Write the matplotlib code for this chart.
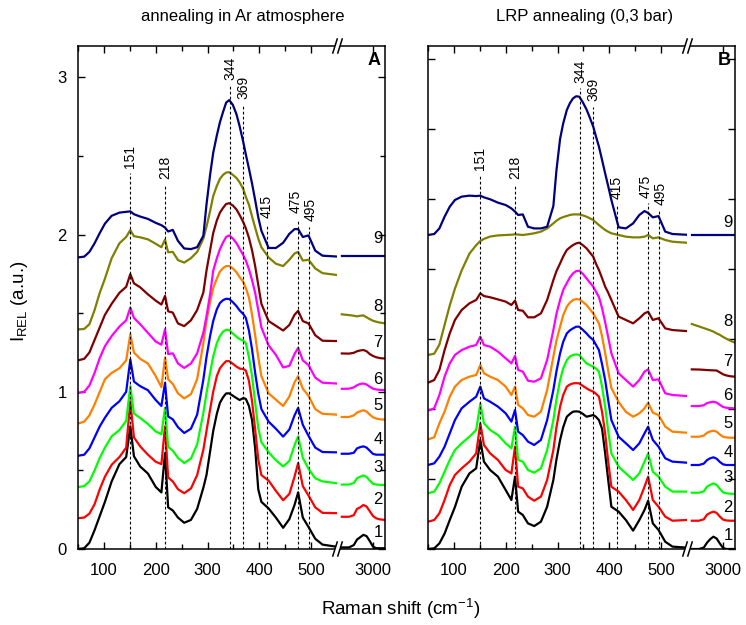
import matplotlib
matplotlib.use('Agg')
import matplotlib.pyplot as plt
from matplotlib.ticker import MultipleLocator, FormatStrFormatter, NullFormatter
from matplotlib.lines import Line2D
from matplotlib.patches import Polygon

plt.rcParams.update({'font.family': 'Liberation Sans', 'axes.linewidth': 1.1})

# Raman shift grids (cm-1): low-frequency part and C-H stretching part
SHIFT = [50, 62, 72, 82, 92, 102, 115, 130, 143, 151, 158, 170, 185, 200, 211,
         218, 224, 233, 243, 255, 268, 280,
         292, 298, 305, 311, 318, 324, 330, 336, 342, 349, 356, 362, 369, 374,
         380, 386, 392, 398, 404,
         418, 432, 446, 458, 468, 475, 484, 495, 508, 522, 548]
SHIFT_HI = [2610, 2700, 2760, 2800, 2840, 2880, 2920, 2960, 3000, 3040, 3090, 3150]

# Ar atmosphere, spectra 1..9 (stacked, relative intensity)
AR_LOW = [
    [0.0, 0.005, 0.04, 0.12, 0.21, 0.30, 0.43, 0.54, 0.585, 0.78, 0.59, 0.525, 0.48, 0.395, 0.36, 0.61, 0.265, 0.245, 0.20, 0.167, 0.185, 0.255,
     0.39, 0.47, 0.62, 0.75, 0.86, 0.93, 0.965, 0.99, 0.99, 0.975, 0.96, 0.948, 0.96, 0.955, 0.91, 0.82, 0.64, 0.38, 0.30,
     0.258, 0.20, 0.135, 0.19, 0.28, 0.36, 0.20, 0.14, 0.065, 0.028, 0.015],
    [0.196, 0.20, 0.225, 0.285, 0.38, 0.46, 0.536, 0.585, 0.645, 0.94, 0.71, 0.653, 0.60, 0.555, 0.54, 0.78, 0.455, 0.43, 0.38, 0.355, 0.385, 0.47,
     0.632, 0.75, 0.887, 1.00, 1.10, 1.15, 1.175, 1.195, 1.195, 1.178, 1.16, 1.148, 1.145, 1.135, 1.07, 0.94, 0.76, 0.57, 0.47,
     0.435, 0.37, 0.31, 0.35, 0.46, 0.547, 0.40, 0.34, 0.265, 0.23, 0.228],
    [0.394, 0.40, 0.43, 0.50, 0.58, 0.645, 0.717, 0.757, 0.815, 1.036, 0.862, 0.834, 0.795, 0.748, 0.73, 0.898, 0.65, 0.625, 0.58, 0.547, 0.575, 0.665,
     0.866, 0.99, 1.12, 1.225, 1.31, 1.355, 1.383, 1.395, 1.393, 1.37, 1.35, 1.336, 1.325, 1.31, 1.22, 1.10, 0.93, 0.77, 0.68,
     0.615, 0.565, 0.525, 0.56, 0.66, 0.717, 0.58, 0.51, 0.45, 0.43, 0.419],
    [0.593, 0.60, 0.64, 0.71, 0.78, 0.835, 0.898, 0.94, 1.0, 1.206, 1.065, 1.036, 1.01, 0.948, 0.91, 1.057, 0.843, 0.825, 0.775, 0.738, 0.765, 0.855,
     1.078, 1.22, 1.355, 1.45, 1.525, 1.565, 1.583, 1.592, 1.59, 1.57, 1.545, 1.518, 1.495, 1.47, 1.39, 1.27, 1.121, 0.99, 0.89,
     0.81, 0.765, 0.715, 0.76, 0.85, 0.898, 0.79, 0.72, 0.645, 0.617, 0.615],
    [0.798, 0.81, 0.85, 0.92, 1.00, 1.08, 1.12, 1.15, 1.20, 1.366, 1.25, 1.21, 1.18, 1.10, 1.03, 1.217, 1.08, 1.05, 0.99, 0.958, 0.985, 1.08,
     1.31, 1.45, 1.57, 1.66, 1.72, 1.765, 1.787, 1.80, 1.80, 1.785, 1.76, 1.73, 1.70, 1.66, 1.60, 1.49, 1.36, 1.22, 1.10,
     0.99, 0.95, 0.91, 0.97, 1.06, 1.10, 1.02, 0.975, 0.89, 0.86, 0.855],
    [0.993, 1.0, 1.04, 1.12, 1.215, 1.29, 1.355, 1.415, 1.455, 1.536, 1.47, 1.43, 1.375, 1.32, 1.30, 1.398, 1.24, 1.245, 1.18, 1.152, 1.18, 1.245,
     1.376, 1.48, 1.62, 1.77, 1.85, 1.908, 1.95, 1.985, 1.995, 1.975, 1.945, 1.91, 1.87, 1.835, 1.78, 1.71, 1.63, 1.52, 1.41,
     1.295, 1.235, 1.155, 1.165, 1.24, 1.28, 1.20, 1.17, 1.09, 1.058, 1.053],
    [1.20, 1.21, 1.25, 1.33, 1.41, 1.49, 1.56, 1.63, 1.668, 1.749, 1.69, 1.665, 1.62, 1.58, 1.555, 1.61, 1.512, 1.504, 1.435, 1.418, 1.455, 1.52,
     1.632, 1.77, 1.90, 2.01, 2.09, 2.14, 2.17, 2.195, 2.20, 2.185, 2.16, 2.125, 2.08, 2.04, 1.98, 1.90, 1.80, 1.68, 1.56,
     1.45, 1.42, 1.39, 1.425, 1.49, 1.515, 1.45, 1.435, 1.36, 1.325, 1.323],
    [1.397, 1.40, 1.43, 1.52, 1.63, 1.72, 1.85, 1.945, 1.985, 2.029, 1.99, 1.983, 1.97, 1.942, 1.92, 1.968, 1.888, 1.89, 1.838, 1.822, 1.85, 1.89,
     1.975, 2.05, 2.15, 2.245, 2.31, 2.355, 2.38, 2.395, 2.397, 2.38, 2.36, 2.333, 2.29, 2.24, 2.19, 2.115, 2.045, 1.975, 1.92,
     1.855, 1.815, 1.80, 1.84, 1.88, 1.89, 1.835, 1.84, 1.785, 1.755, 1.744],
    [1.855, 1.86, 1.89, 1.945, 2.01, 2.07, 2.12, 2.14, 2.145, 2.148, 2.13, 2.115, 2.10, 2.075, 2.06, 2.045, 2.02, 2.03, 1.96, 1.912, 1.908, 1.92,
     1.993, 2.19, 2.38, 2.52, 2.631, 2.715, 2.78, 2.84, 2.856, 2.825, 2.765, 2.69, 2.59, 2.51, 2.42, 2.325, 2.22, 2.11, 2.025,
     1.915, 1.915, 1.948, 2.005, 2.035, 2.035, 1.985, 1.995, 1.898, 1.866, 1.861],
]
AR_HIGH = [
    [0.01, 0.01, 0.025, 0.06, 0.075, 0.09, 0.082, 0.05, 0.015, 0.005, 0.005, 0.005],
    [0.205, 0.205, 0.215, 0.255, 0.265, 0.28, 0.27, 0.24, 0.21, 0.195, 0.188, 0.185],
    [0.41, 0.41, 0.42, 0.45, 0.46, 0.468, 0.458, 0.435, 0.415, 0.41, 0.408, 0.408],
    [0.606, 0.606, 0.612, 0.64, 0.648, 0.653, 0.645, 0.625, 0.605, 0.60, 0.60, 0.60],
    [0.84, 0.84, 0.85, 0.868, 0.876, 0.883, 0.874, 0.855, 0.838, 0.83, 0.825, 0.823],
    [1.019, 1.02, 1.028, 1.042, 1.05, 1.053, 1.046, 1.032, 1.02, 1.015, 1.012, 1.01],
    [1.244, 1.243, 1.248, 1.258, 1.263, 1.266, 1.258, 1.24, 1.228, 1.22, 1.214, 1.212],
    [1.493, 1.488, 1.484, 1.48, 1.484, 1.486, 1.474, 1.462, 1.452, 1.446, 1.44, 1.436],
    [1.861, 1.861, 1.861, 1.861, 1.861, 1.861, 1.861, 1.861, 1.861, 1.861, 1.861, 1.861],
]

# LRP annealing (0,3 bar), spectra 1..9
LRP_LOW = [
    [0.0, 0.005, 0.04, 0.11, 0.207, 0.30, 0.445, 0.54, 0.576, 0.779, 0.624, 0.564, 0.517, 0.421, 0.35, 0.517, 0.267, 0.243, 0.183, 0.164, 0.195, 0.302,
     0.493, 0.64, 0.779, 0.87, 0.945, 0.965, 0.981, 0.983, 0.981, 0.965, 0.945, 0.95, 0.957, 0.945, 0.921, 0.86, 0.683, 0.49, 0.302,
     0.267, 0.207, 0.131, 0.207, 0.279, 0.345, 0.183, 0.136, 0.052, 0.017, 0.01],
    [0.195, 0.207, 0.255, 0.35, 0.457, 0.529, 0.576, 0.624, 0.683, 0.898, 0.743, 0.683, 0.636, 0.564, 0.54, 0.731, 0.445, 0.433, 0.374, 0.345, 0.374, 0.493,
     0.707, 0.87, 1.017, 1.10, 1.16, 1.175, 1.183, 1.185, 1.183, 1.165, 1.148, 1.135, 1.124, 1.11, 1.088, 0.98, 0.826, 0.62, 0.445,
     0.41, 0.35, 0.279, 0.35, 0.445, 0.517, 0.35, 0.302, 0.231, 0.202, 0.207],
    [0.398, 0.41, 0.469, 0.552, 0.636, 0.707, 0.755, 0.802, 0.85, 1.04, 0.898, 0.85, 0.814, 0.755, 0.719, 0.874, 0.636, 0.624, 0.564, 0.545, 0.576, 0.707,
     0.921, 1.07, 1.207, 1.29, 1.35, 1.375, 1.386, 1.39, 1.386, 1.355, 1.326, 1.315, 1.302, 1.29, 1.267, 1.16, 1.017, 0.84, 0.683,
     0.588, 0.54, 0.493, 0.54, 0.624, 0.683, 0.552, 0.517, 0.445, 0.41, 0.41],
    [0.60, 0.612, 0.66, 0.731, 0.826, 0.921, 1.005, 1.052, 1.088, 1.16, 1.076, 1.052, 1.017, 0.969, 0.91, 0.993, 0.838, 0.814, 0.767, 0.743, 0.779, 0.921,
     1.136, 1.27, 1.398, 1.48, 1.54, 1.562, 1.576, 1.588, 1.588, 1.565, 1.54, 1.515, 1.493, 1.46, 1.421, 1.32, 1.207, 1.06, 0.921,
     0.802, 0.755, 0.707, 0.755, 0.826, 0.874, 0.779, 0.731, 0.648, 0.624, 0.617],
    [0.783, 0.798, 0.898, 0.981, 1.088, 1.16, 1.207, 1.231, 1.243, 1.314, 1.255, 1.231, 1.207, 1.16, 1.10, 1.16, 1.029, 1.005, 0.957, 0.945, 0.981, 1.136,
     1.374, 1.49, 1.588, 1.67, 1.731, 1.76, 1.779, 1.785, 1.783, 1.765, 1.743, 1.715, 1.683, 1.65, 1.612, 1.52, 1.40, 1.27, 1.15,
     1.05, 0.98, 0.945, 0.969, 1.005, 1.045, 0.974, 0.957, 0.874, 0.838, 0.831],
    [0.988, 1.005, 1.10, 1.231, 1.326, 1.386, 1.421, 1.445, 1.457, 1.517, 1.457, 1.445, 1.41, 1.362, 1.326, 1.379, 1.279, 1.267, 1.202, 1.195, 1.219, 1.35,
     1.564, 1.68, 1.779, 1.85, 1.90, 1.94, 1.969, 1.985, 1.988, 1.965, 1.933, 1.905, 1.874, 1.84, 1.80, 1.72, 1.62, 1.51, 1.398,
     1.255, 1.207, 1.16, 1.207, 1.267, 1.283, 1.207, 1.212, 1.112, 1.10, 1.093],
    [1.188, 1.207, 1.279, 1.421, 1.54, 1.636, 1.707, 1.755, 1.779, 1.826, 1.807, 1.798, 1.783, 1.767, 1.743, 1.774, 1.707, 1.702, 1.655, 1.655, 1.683, 1.779,
     1.921, 1.985, 2.04, 2.09, 2.136, 2.155, 2.171, 2.183, 2.188, 2.17, 2.148, 2.12, 2.088, 2.04, 1.993, 1.935, 1.874, 1.83, 1.779,
     1.66, 1.636, 1.612, 1.648, 1.683, 1.695, 1.636, 1.648, 1.576, 1.564, 1.557],
    [1.386, 1.395, 1.46, 1.60, 1.74, 1.86, 1.99, 2.11, 2.17, 2.20, 2.215, 2.232, 2.24, 2.243, 2.245, 2.248, 2.246, 2.243, 2.248, 2.255, 2.267, 2.29,
     2.326, 2.345, 2.362, 2.371, 2.379, 2.386, 2.39, 2.39, 2.39, 2.383, 2.374, 2.363, 2.35, 2.333, 2.314, 2.296, 2.279, 2.266, 2.255,
     2.243, 2.231, 2.226, 2.226, 2.231, 2.243, 2.219, 2.226, 2.207, 2.195, 2.188],
    [2.243, 2.25, 2.29, 2.374, 2.445, 2.493, 2.517, 2.524, 2.521, 2.524, 2.512, 2.498, 2.474, 2.457, 2.433, 2.41, 2.386, 2.39, 2.302, 2.29, 2.29, 2.302,
     2.45, 2.707, 2.93, 3.04, 3.136, 3.185, 3.219, 3.234, 3.231, 3.19, 3.14, 3.085, 3.017, 2.95, 2.874, 2.78, 2.683, 2.59, 2.493,
     2.298, 2.29, 2.326, 2.386, 2.414, 2.40, 2.369, 2.378, 2.267, 2.25, 2.245],
]
LRP_HIGH = [
    [0.0, 0.0, 0.01, 0.045, 0.07, 0.088, 0.075, 0.04, 0.008, 0.0, 0.0, 0.0],
    [0.202, 0.202, 0.212, 0.245, 0.258, 0.267, 0.258, 0.232, 0.21, 0.204, 0.202, 0.202],
    [0.402, 0.402, 0.412, 0.445, 0.458, 0.469, 0.458, 0.43, 0.405, 0.398, 0.395, 0.393],
    [0.60, 0.60, 0.61, 0.635, 0.648, 0.655, 0.645, 0.622, 0.605, 0.60, 0.60, 0.60],
    [0.802, 0.802, 0.81, 0.83, 0.84, 0.845, 0.838, 0.818, 0.802, 0.797, 0.795, 0.795],
    [1.021, 1.021, 1.027, 1.042, 1.048, 1.052, 1.046, 1.03, 1.015, 1.009, 1.006, 1.005],
    [1.283, 1.282, 1.28, 1.278, 1.277, 1.276, 1.275, 1.262, 1.248, 1.24, 1.234, 1.231],
    [1.607, 1.59, 1.578, 1.57, 1.562, 1.553, 1.54, 1.53, 1.515, 1.503, 1.488, 1.474],
    [2.243, 2.243, 2.243, 2.243, 2.243, 2.243, 2.243, 2.243, 2.243, 2.243, 2.243, 2.243],
]

SPECTRA = ['1', '2', '3', '4', '5', '6', '7', '8', '9']
COLORS = ['#000000', '#FF0000', '#00FF00', '#0000FF', '#FF8000',
          '#FF00FF', '#800000', '#808000', '#000080']
AR_LABEL_Y = [0.108, 0.313, 0.517, 0.696, 0.913, 1.078, 1.315, 1.544, 1.978]
LRP_LABEL_Y = [0.093, 0.295, 0.509, 0.688, 0.893, 1.093, 1.338, 1.624, 2.33]

# marked bands and the height of their guide lines
BANDS = [151, 218, 344, 369, 415, 475, 495]
AR_BAND_TOP = [2.39, 2.32, 2.95, 2.83, 2.07, 2.10, 2.05]
LRP_BAND_TOP = [2.67, 2.60, 3.29, 3.16, 2.46, 2.47, 2.42]
NUDGE = {475: -1.5, 495: 1.5}   # keep the two close labels apart (points)

W, H = 746, 625
Y_TOP, Y_BOT = 46, 549


def box(x0, x1):
    return [x0 / W, 1 - Y_BOT / H, (x1 - x0) / W, (Y_BOT - Y_TOP) / H]


def axis_break(fig, xc, yc):
    # white gap in the spine plus the two slashes
    def fx(v):
        return v / W

    def fy(v):
        return 1 - v / H
    gap = Polygon([(fx(xc - 4.5), fy(yc + 7)), (fx(xc + 0.5), fy(yc + 7)),
                   (fx(xc + 4.5), fy(yc - 7)), (fx(xc - 0.5), fy(yc - 7))],
                  closed=True, transform=fig.transFigure, facecolor='white',
                  edgecolor='none', zorder=10)
    fig.patches.append(gap)
    for dx in (-2.5, 2.5):
        fig.lines.append(Line2D([fx(xc + dx - 2.2), fx(xc + dx + 2.2)],
                                [fy(yc + 7), fy(yc - 7)], transform=fig.transFigure,
                                color='black', lw=1.1, zorder=11))


fig = plt.figure(figsize=(7.46, 6.25), dpi=100)

panels = [
    (78, AR_LOW, AR_HIGH, AR_LABEL_Y, AR_BAND_TOP, (0, 3.2), True, 'A'),
    (428, LRP_LOW, LRP_HIGH, LRP_LABEL_Y, LRP_BAND_TOP, (0, 3.593), False, 'B'),
]

for x0, low, high, lab_y, band_top, ylim, ylabels, letter in panels:
    ax = fig.add_axes(box(x0, x0 + 259))
    axh = fig.add_axes(box(x0 + 259, x0 + 307))

    for ys, col in zip(low, COLORS):
        ax.plot(SHIFT, ys, color=col, lw=1.6, solid_joinstyle='round')
    for ys, col in zip(high, COLORS):
        axh.plot(SHIFT_HI, ys, color=col, lw=1.6)

    for b, top in zip(BANDS, band_top):
        ax.plot([b, b], [0, top], color='black', lw=0.8, ls=(0, (2.5, 2)), zorder=3)
        ax.annotate(str(b), (b, top), xytext=(NUDGE.get(b, 0), 4), textcoords='offset points',
                    rotation=90, ha='center', va='bottom', fontsize=10)

    for name, y in zip(SPECTRA, lab_y):
        axh.text(3062, y, name, ha='center', va='center', fontsize=12)
    axh.text(0.77, 0.972, letter, transform=axh.transAxes, ha='center',
             va='center', fontsize=13, fontweight='bold')

    ax.set_xlim(50, 550)
    axh.set_xlim(2550, 3150)
    for a in (ax, axh):
        a.set_ylim(*ylim)
    ax.spines['right'].set_visible(False)
    axh.spines['left'].set_visible(False)

    ax.xaxis.set_major_locator(MultipleLocator(100))
    ax.xaxis.set_minor_locator(MultipleLocator(50))
    axh.set_xticks([3000])
    if ylabels:
        for a in (ax, axh):
            a.yaxis.set_major_locator(MultipleLocator(1))
            a.yaxis.set_minor_locator(MultipleLocator(0.5))
        ax.yaxis.set_major_formatter(FormatStrFormatter('%d'))
    else:
        for a in (ax, axh):
            a.yaxis.set_major_locator(MultipleLocator(0.5))
        ax.yaxis.set_major_formatter(NullFormatter())
    axh.yaxis.set_major_formatter(NullFormatter())

    ax.tick_params(which='both', direction='in', top=True, right=False, labelsize=12)
    axh.tick_params(which='both', direction='in', top=True, left=False, right=True,
                    labelleft=False, labelsize=12)
    for a in (ax, axh):
        a.tick_params(which='major', length=5, width=1.0)
        a.tick_params(which='minor', length=3.5, width=1.0)
        a.tick_params(axis='x', pad=10)
        a.tick_params(axis='y', pad=8)

    axis_break(fig, x0 + 259.5, Y_BOT)
    axis_break(fig, x0 + 259.5, Y_TOP)

fig.text(243 / W, 1 - 16 / H, 'annealing in Ar atmosphere', ha='center', va='center', fontsize=12)
fig.text(585 / W, 1 - 17 / H, 'LRP annealing (0,3 bar)', ha='center', va='center', fontsize=12)
fig.text(20 / W, 1 - 301 / H, r'I$_{\mathregular{REL}}$ (a.u.)', rotation=90,
         ha='center', va='center', fontsize=13.5)
fig.text(401 / W, 1 - 609 / H, r'Raman shift (cm$^{\mathregular{-1}}$)',
         ha='center', va='center', fontsize=13.5)

fig.savefig('out.png', dpi=100)
